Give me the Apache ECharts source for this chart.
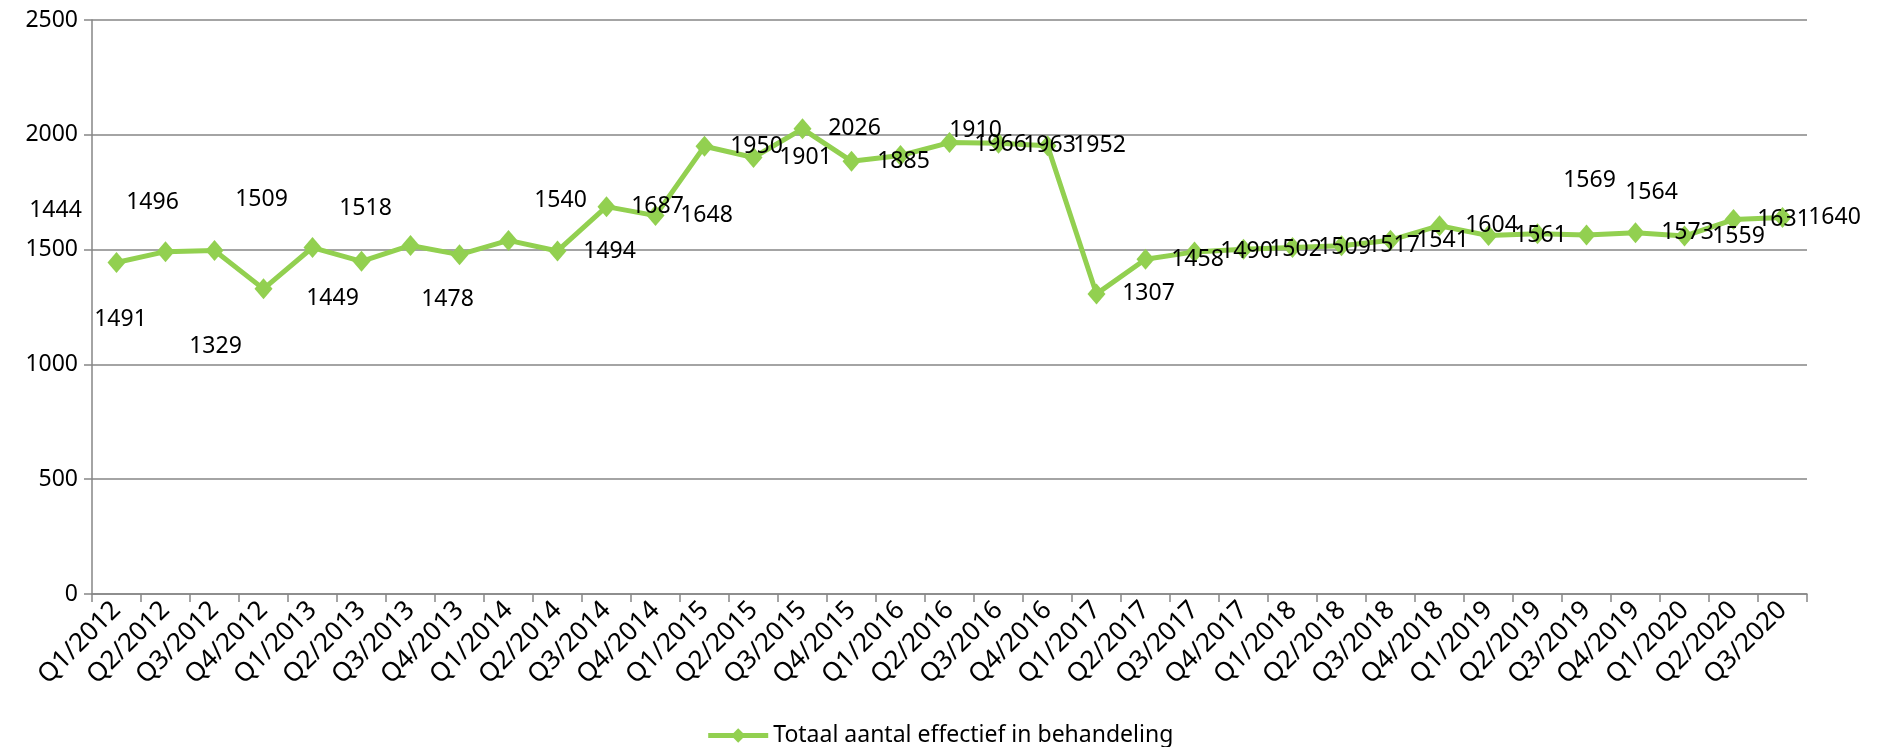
<!DOCTYPE html>
<html>
<head>
<meta charset="utf-8">
<script src="https://cdn.jsdelivr.net/npm/echarts@6/dist/echarts.min.js"></script>
<style>
html,body{margin:0;padding:0;background:#fff;}
#chart{width:1879px;height:747px;}
</style>
</head>
<body>
<div id="chart"></div>
<script>
const categories = [
  'Q1/2012','Q2/2012','Q3/2012','Q4/2012',
  'Q1/2013','Q2/2013','Q3/2013','Q4/2013',
  'Q1/2014','Q2/2014','Q3/2014','Q4/2014',
  'Q1/2015','Q2/2015','Q3/2015','Q4/2015',
  'Q1/2016','Q2/2016','Q3/2016','Q4/2016',
  'Q1/2017','Q2/2017','Q3/2017','Q4/2017',
  'Q1/2018','Q2/2018','Q3/2018','Q4/2018',
  'Q1/2019','Q2/2019','Q3/2019','Q4/2019',
  'Q1/2020','Q2/2020','Q3/2020'
];
const seriesName = 'Totaal aantal effectief in behandeling';
const values = [
  1444, 1491, 1496, 1329,
  1509, 1449, 1518, 1478,
  1540, 1494, 1687, 1648,
  1950, 1901, 2026, 1885,
  1910, 1966, 1963, 1952,
  1307, 1458, 1490, 1502,
  1509, 1517, 1541, 1604,
  1561, 1569, 1564, 1573,
  1559, 1631, 1640
];
const yTicks = { min: 0, max: 2500, interval: 500 };

// label offsets (styling only): [dx, dy] from the marker centre
const labelOffsets = [
  [-61,-52],[-45,68],[-62,-48],[-48,58],
  [-51,-48],[-29,37],[-45,-37],[-12,45],
  [52,-40],[52,0],[51,0],[51,0],
  [52,0],[52,0],[52,0],[52,0],
  [75,-25],[51,2],[51,2],[52,0],
  [52,0],[52,0],[52,0],[52,0],
  [52,0],[52,0],[52,0],[52,0],
  [52,0],[52,-53],[65,-42],[52,0],
  [54,0],[50,0],[52,0]
];

const FONT = 'Noto Sans';
const GREEN = '#92D050';
const GRAY = '#868686';

const seriesData = values.map((v, i) => ({
  value: v,
  label: { offset: labelOffsets[i] }
}));

const chart = echarts.init(document.getElementById('chart'), null, { renderer: 'canvas' });
chart.setOption({
  backgroundColor: '#ffffff',
  animation: false,
  textStyle: { fontFamily: FONT },
  grid: { left: 92, right: 72, top: 20, bottom: 153, containLabel: false },
  legend: {
    data: [seriesName],
    left: 'center',
    top: 719,
    itemWidth: 60,
    itemHeight: 18,
    itemGap: 6,
    lineStyle: { width: 5 },
    textStyle: { fontFamily: FONT, fontSize: 23, color: '#000' }
  },
  xAxis: {
    type: 'category',
    data: categories,
    boundaryGap: true,
    axisLine: { show: true, lineStyle: { color: GRAY, width: 1.5 } },
    axisTick: { show: true, length: 8, lineStyle: { color: GRAY, width: 1.5 } },
    axisLabel: {
      interval: 0,
      rotate: 45,
      margin: 12,
      fontFamily: FONT,
      fontSize: 26,
      color: '#000'
    },
    splitLine: { show: false }
  },
  yAxis: {
    type: 'value',
    min: yTicks.min,
    max: yTicks.max,
    interval: yTicks.interval,
    axisLine: { show: true, lineStyle: { color: GRAY, width: 1.5 } },
    axisTick: { show: true, length: 8, lineStyle: { color: GRAY, width: 1.5 } },
    axisLabel: {
      fontFamily: FONT, fontSize: 23, color: '#000', margin: 14,
      formatter: v => String(v)
    },
    splitLine: { show: true, lineStyle: { color: GRAY, width: 1.5 } }
  },
  series: [{
    name: seriesName,
    type: 'line',
    data: seriesData,
    symbol: 'diamond',
    symbolSize: [18, 21],
    showAllSymbol: true,
    lineStyle: { color: GREEN, width: 5 },
    itemStyle: { color: GREEN },
    label: {
      show: true,
      position: 'inside',
      fontFamily: FONT,
      fontSize: 23,
      color: '#000'
    },
    emphasis: { disabled: true }
  }]
});
</script>
</body>
</html>
